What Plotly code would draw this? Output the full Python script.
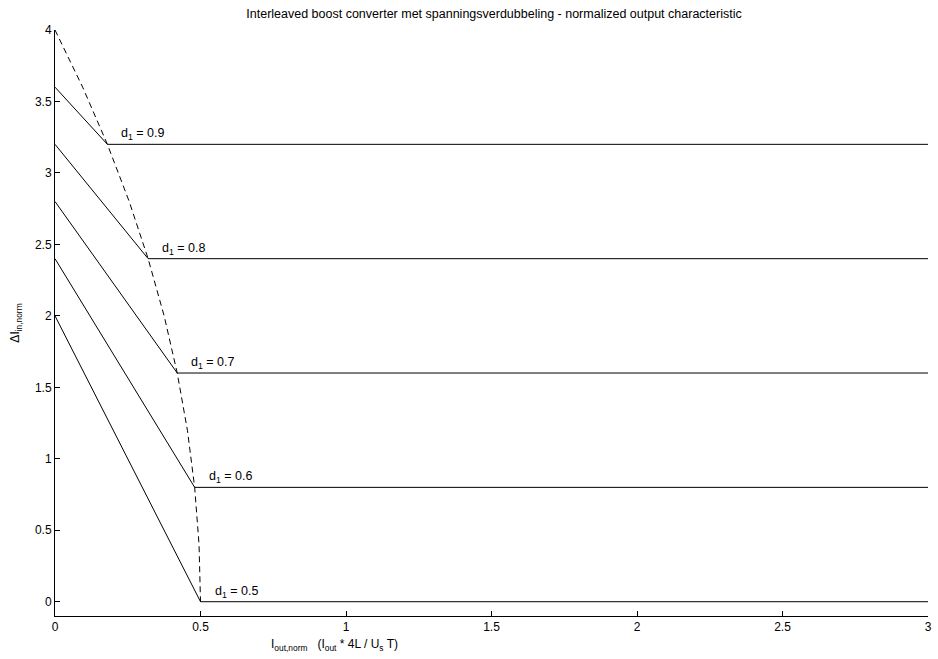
import plotly.graph_objects as go

# Duty cycles and the characteristic of each curve
duty = [0.5, 0.6, 0.7, 0.8, 0.9]
start_y = [2.0, 2.4, 2.8, 3.2, 3.6]      # ripple at zero output current
knee_x = [0.5, 0.48, 0.42, 0.32, 0.18]   # boundary between DCM and CCM
plateau_y = [0.0, 0.8, 1.6, 2.4, 3.2]    # constant ripple in CCM
x_end = 3.0

# Boundary curve between the two conduction modes
boundary_x = [0.0, 0.095, 0.18, 0.255, 0.32, 0.375, 0.42, 0.455, 0.48, 0.495, 0.5]
boundary_y = [4.0, 3.6, 3.2, 2.8, 2.4, 2.0, 1.6, 1.2, 0.8, 0.4, 0.0]

x_ticks = [0, 0.5, 1, 1.5, 2, 2.5, 3]
y_ticks = [0, 0.5, 1, 1.5, 2, 2.5, 3, 3.5, 4]

FONT = "Liberation Sans, Arial, sans-serif"

fig = go.Figure()

for d, y0, xk, yp in zip(duty, start_y, knee_x, plateau_y):
    fig.add_trace(go.Scatter(
        x=[0, xk, x_end], y=[y0, yp, yp], mode="lines",
        line=dict(color="black", width=1), showlegend=False, hoverinfo="skip"))
    fig.add_annotation(
        x=xk, y=yp, xref="x", yref="y",
        text=f"d<sub>1</sub> = {d:.1f}", showarrow=False,
        xanchor="left", yanchor="bottom", xshift=12, yshift=0,
        font=dict(family=FONT, size=12.5, color="black"))

fig.add_trace(go.Scatter(
    x=boundary_x, y=boundary_y, mode="lines",
    line=dict(color="black", width=1, dash="6px,4px"),
    showlegend=False, hoverinfo="skip"))

fig.add_annotation(
    xref="paper", yref="paper", x=0.245, y=-0.05,
    text="I<sub>out,norm</sub>   (I<sub>out</sub> * 4L / U<sub>s</sub> T)",
    showarrow=False, xanchor="left", yanchor="middle",
    font=dict(family=FONT, size=12, color="black"))

fig.update_layout(
    width=938, height=659,
    margin=dict(l=55, r=6, t=30, b=43),
    paper_bgcolor="white", plot_bgcolor="white",
    title=dict(
        text="Interleaved boost converter met spanningsverdubbeling - normalized output characteristic",
        x=(55 + 933) / 2 / 938, xanchor="center", y=1 - 14 / 659, yanchor="middle",
        font=dict(family=FONT, size=12.5, color="black")),
    font=dict(family=FONT, size=12, color="black"),
)

fig.update_xaxes(
    range=[0, 3], tickvals=x_ticks, ticktext=[f"{v:g}" for v in x_ticks],
    showgrid=False, zeroline=False, showline=True, linecolor="black", linewidth=1,
    ticks="inside", ticklen=5, tickcolor="black", mirror=False)

fig.update_yaxes(
    range=[-0.1, 4], tickvals=y_ticks, ticktext=[f"{v:g}" for v in y_ticks],
    showgrid=False, zeroline=False, showline=True, linecolor="black", linewidth=1,
    ticks="inside", ticklen=5, tickcolor="black", mirror=False,
    title=dict(text="ΔI<sub>in,norm</sub>", standoff=12,
               font=dict(family=FONT, size=12, color="black")))

fig.write_html("out.html")
